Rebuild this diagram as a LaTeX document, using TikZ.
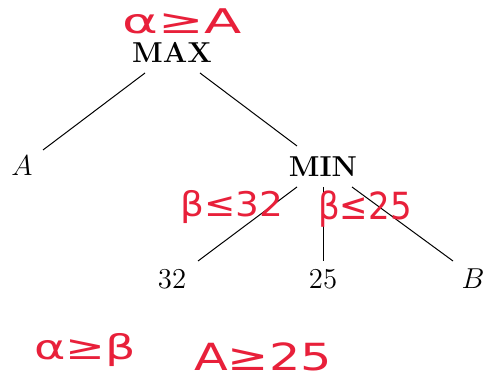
\documentclass[tikz,border=0pt]{standalone}
\usepackage{fontspec}
\newfontfamily\handfont{DejaVu Sans}
\definecolor{annot}{HTML}{E8203A}
\tikzset{
  lbl/.style={inner sep=0pt, font=\fontsize{14.4}{17}\selectfont},
  edge/.style={draw=black, line width=0.5pt},
  note/.style={inner sep=0pt, text=annot, font=\handfont\fontsize{17}{20}\selectfont}
}
\begin{document}
\begin{tikzpicture}[x=0.5pt,y=-0.5pt]
\useasboundingbox[fill=white] (0,0) rectangle (488,379);
% tree nodes
\node[lbl] (max) at (172,52) {\textbf{MAX}};
\node[lbl] (a) at (22,166) {$A$};
\node[lbl] (min) at (323,167) {\textbf{MIN}};
\node[lbl] (n32) at (172,279) {32};
\node[lbl] (n25) at (323,279) {25};
\node[lbl] (b) at (473,279) {$B$};
% connector end points
\coordinate (maxL) at (145,73);
\coordinate (maxR) at (200,73);
\coordinate (aT) at (43,150);
\coordinate (minT) at (297,146);
\coordinate (minL) at (297,187);
\coordinate (minC) at (323,187);
\coordinate (minR) at (352,187);
\coordinate (t32) at (198,261);
\coordinate (t25) at (323,261);
\coordinate (tB) at (453,261);
\draw[edge] (maxL) -- (aT);
\draw[edge] (maxR) -- (minT);
\draw[edge] (minL) -- (t32);
\draw[edge] (minC) -- (t25);
\draw[edge] (minR) -- (tB);
% red annotations
\node[note] (n1) at (182,21) {\scalebox{1.6}[1]{α≥A}};
\node[note] (n2) at (232,207) {\scalebox{1.1}[1]{β≤32}};
\node[note] (n3) at (365,209) {\scalebox{1.0}[1.1]{β≤25}};
\node[note] (n4) at (85,350) {\scalebox{1.4}[1]{α≥β}};
\node[note] (n5) at (263,357) {\scalebox{1.45}[1.1]{A≥25}};
\end{tikzpicture}
\end{document}
